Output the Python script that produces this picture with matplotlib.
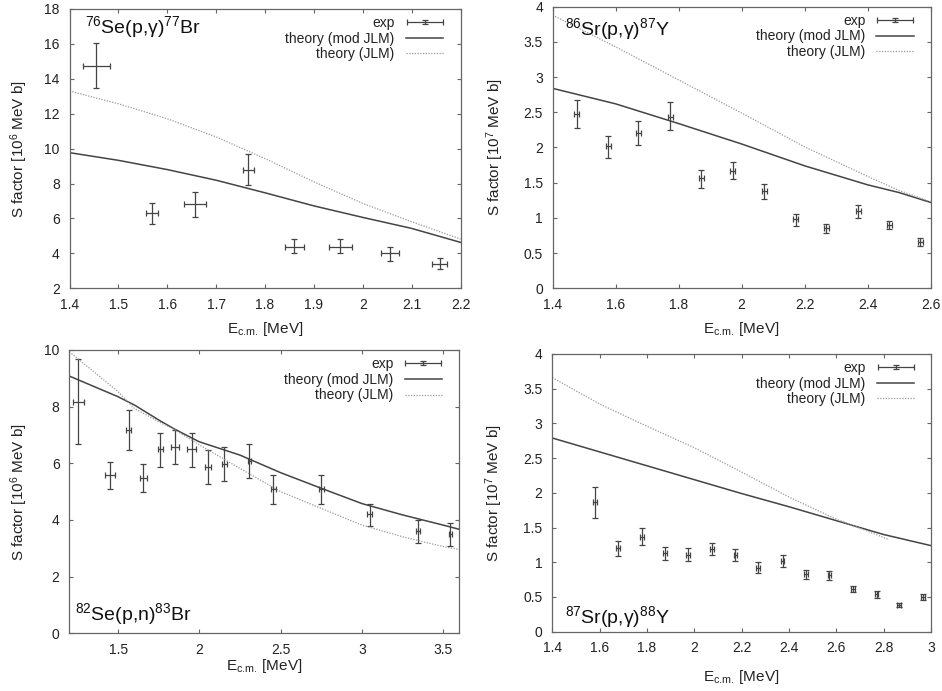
import numpy as np
import matplotlib
matplotlib.use('Agg')
import matplotlib.pyplot as plt
from matplotlib.ticker import FormatStrFormatter, MultipleLocator
from matplotlib.container import ErrorbarContainer
from matplotlib.legend_handler import HandlerErrorbar

plt.rcParams['font.family'] = ['Liberation Sans', 'DejaVu Sans']
plt.rcParams['mathtext.fontset'] = 'custom'
plt.rcParams['mathtext.rm'] = 'Liberation Sans'
plt.rcParams['mathtext.it'] = 'Liberation Sans:italic'
plt.rcParams['mathtext.bf'] = 'Liberation Sans:bold'

# --- 76Se(p,g)77Br ---
se76_e = [1.455, 1.569, 1.657, 1.766, 1.860, 1.954, 2.056, 2.157]
se76_s = [14.76, 6.29, 6.80, 8.80, 4.38, 4.38, 4.00, 3.39]
se76_lo = [13.49, 5.68, 6.10, 7.90, 4.00, 4.00, 3.58, 3.09]
se76_hi = [16.04, 6.91, 7.49, 9.68, 4.80, 4.80, 4.38, 3.71]
se76_de = [0.027, 0.012, 0.023, 0.012, 0.019, 0.024, 0.018, 0.015]
se76_th_e = [1.4, 1.5, 1.6, 1.7, 1.8, 1.9, 2.0, 2.1, 2.2]
se76_mod = [9.77, 9.33, 8.80, 8.19, 7.47, 6.72, 6.06, 5.43, 4.63]
se76_jlm = [13.30, 12.57, 11.71, 10.67, 9.43, 8.10, 6.86, 5.81, 4.82]

# --- 86Sr(p,g)87Y ---
sr86_e = [1.477, 1.577, 1.672, 1.773, 1.872, 1.972, 2.072, 2.172, 2.269, 2.370, 2.469, 2.568]
sr86_s = [2.47, 2.02, 2.21, 2.44, 1.56, 1.67, 1.38, 0.98, 0.86, 1.10, 0.90, 0.66]
sr86_lo = [2.27, 1.85, 2.03, 2.25, 1.43, 1.55, 1.27, 0.89, 0.79, 1.00, 0.84, 0.60]
sr86_hi = [2.67, 2.17, 2.37, 2.64, 1.68, 1.80, 1.48, 1.05, 0.91, 1.19, 0.96, 0.71]
sr86_th_e = [1.4, 1.6, 1.8, 2.0, 2.2, 2.4, 2.5, 2.6]
sr86_mod = [2.84, 2.62, 2.34, 2.05, 1.74, 1.47, 1.36, 1.22]
sr86_jlm = [3.88, 3.43, 2.96, 2.49, 2.01, 1.59, 1.39, 1.23]

# --- 82Se(p,n)83Br ---
se82_e = [1.255, 1.449, 1.565, 1.655, 1.759, 1.852, 1.952, 2.053, 2.153, 2.307,
          2.455, 2.750, 3.048, 3.345, 3.544]
se82_s = [8.15, 5.59, 7.18, 5.49, 6.49, 6.59, 6.49, 5.88, 5.99, 6.07,
          5.08, 5.08, 4.21, 3.61, 3.49]
se82_lo = [6.67, 5.08, 6.47, 4.98, 5.87, 5.98, 5.87, 5.27, 5.39, 5.47,
           4.56, 4.56, 3.78, 3.20, 3.08]
se82_hi = [9.67, 6.06, 7.88, 5.99, 7.07, 7.18, 7.07, 6.47, 6.59, 6.67,
           5.59, 5.58, 4.58, 4.00, 3.89]
se82_de = [0.033, 0.030, 0.015, 0.020, 0.015, 0.024, 0.026, 0.017, 0.015, 0.010,
           0.015, 0.015, 0.015, 0.010, 0.010]
se82_th_e = [1.2, 1.5, 1.6, 1.75, 1.85, 2.0, 2.25, 2.5, 2.75, 3.0, 3.25, 3.5, 3.6]
se82_mod = [9.08, 8.35, 8.06, 7.53, 7.20, 6.76, 6.29, 5.67, 5.12, 4.58, 4.18, 3.82, 3.67]
se82_jlm = [9.94, 8.53, 7.94, 7.47, 7.18, 6.65, 5.82, 5.00, 4.41, 3.82, 3.41, 3.06, 2.96]

# --- 87Sr(p,g)88Y ---
sr87_e = [1.579, 1.678, 1.778, 1.875, 1.975, 2.074, 2.174, 2.270, 2.373, 2.471,
          2.571, 2.669, 2.770, 2.866, 2.965]
sr87_s = [1.87, 1.20, 1.37, 1.13, 1.11, 1.19, 1.10, 0.92, 1.02, 0.83,
          0.81, 0.61, 0.54, 0.38, 0.50]
sr87_lo = [1.64, 1.09, 1.25, 1.04, 1.02, 1.10, 1.02, 0.85, 0.93, 0.76,
           0.74, 0.57, 0.49, 0.35, 0.46]
sr87_hi = [2.08, 1.31, 1.49, 1.22, 1.21, 1.28, 1.19, 1.01, 1.10, 0.89,
           0.88, 0.66, 0.58, 0.41, 0.54]
sr87_th_e = [1.4, 1.6, 1.8, 2.0, 2.2, 2.4, 2.6, 2.8, 3.0]
sr87_mod = [2.79, 2.59, 2.39, 2.19, 1.99, 1.80, 1.60, 1.40, 1.24]
sr87_jlm_e = [1.4, 1.6, 1.8, 2.0, 2.2, 2.4, 2.6, 2.7, 2.82]
sr87_jlm = [3.66, 3.28, 2.96, 2.65, 2.30, 1.94, 1.62, 1.49, 1.33]

ERR_C = '#444444'
MOD_C = '#444444'
JLM_C = '#999999'
FRAME_C = '#666666'
TEXT_C = '#222222'

fig = plt.figure(figsize=(9.42, 6.91), dpi=100)


def panel(rect, e, s, lo, hi, de, th_e, mod, jlm_e, jlm, xlim, ylim, xstep, ystep,
          exp10, label, label_pos, ylab_x, xlab_y):
    ax = fig.add_axes(rect)
    s = np.array(s)
    yerr = [s - np.array(lo), np.array(hi) - s]
    eb = ax.errorbar(e, s, yerr=yerr, xerr=de, fmt='none', ecolor=ERR_C,
                     elinewidth=0.9, capsize=2.5, capthick=0.9, label='exp')
    l_mod, = ax.plot(th_e, mod, color=MOD_C, lw=1.1, label='theory (mod JLM)')
    l_jlm, = ax.plot(jlm_e, jlm, color=JLM_C, lw=0.9, ls=(0, (1, 1.2)),
                     label='theory (JLM)')
    ax.set_xlim(*xlim)
    ax.set_ylim(*ylim)
    ax.xaxis.set_major_locator(MultipleLocator(xstep))
    ax.yaxis.set_major_locator(MultipleLocator(ystep))
    ax.xaxis.set_major_formatter(FormatStrFormatter('%g'))
    ax.yaxis.set_major_formatter(FormatStrFormatter('%g'))
    ax.tick_params(direction='in', length=3, width=0.8, color=FRAME_C, top=True,
                   right=True, labelsize=10, labelcolor=TEXT_C, pad=7)
    for sp in ax.spines.values():
        sp.set_color(FRAME_C)
        sp.set_linewidth(0.9)
    ax.set_xlabel(r'E$_{\mathrm{c.\!m.\!}}$ [MeV]', fontsize=11, color=TEXT_C)
    ax.set_ylabel('S factor [10$^{%d}$ MeV b]' % exp10, fontsize=11, color=TEXT_C)
    ax.xaxis.set_label_coords(0.5, xlab_y)
    ax.yaxis.set_label_coords(ylab_x, 0.5)
    ax.text(label_pos[0], label_pos[1], label, transform=ax.transAxes, fontsize=14,
            ha='left', va='baseline', color='#111111')
    leg = ax.legend([eb, l_mod, l_jlm], ['exp', 'theory (mod JLM)', 'theory (JLM)'],
                    loc='upper right', bbox_to_anchor=(0.956, 0.975), frameon=False,
                    markerfirst=False, fontsize=10, handlelength=2.7,
                    handletextpad=0.8, labelspacing=0.12, borderpad=0,
                    borderaxespad=0,
                    handler_map={ErrorbarContainer: HandlerErrorbar(xerr_size=1.3,
                                                                    yerr_size=0.15)})
    for t in leg.get_texts():
        t.set_color(TEXT_C)
    return ax


panel([0.0738, 0.5828, 0.4151, 0.4042], se76_e, se76_s, se76_lo, se76_hi, se76_de,
      se76_th_e, se76_mod, se76_th_e, se76_jlm, (1.4, 2.2), (2, 18), 0.1, 2, 6,
      r'$^{76}$Se(p,γ)$^{77}$Br', (0.04, 0.914), -0.10, -0.113)

panel([0.5867, 0.5828, 0.4011, 0.4075], sr86_e, sr86_s, sr86_lo, sr86_hi,
      [0.008] * len(sr86_e), sr86_th_e, sr86_mod, sr86_th_e, sr86_jlm,
      (1.4, 2.6), (0, 4), 0.2, 0.5, 7,
      r'$^{86}$Sr(p,γ)$^{87}$Y', (0.033, 0.9), -0.124, -0.113)

panel([0.0736, 0.0835, 0.4140, 0.4100], se82_e, se82_s, se82_lo, se82_hi, se82_de,
      se82_th_e, se82_mod, se82_th_e, se82_jlm, (1.2, 3.6), (0, 10), 0.5, 2, 6,
      r'$^{82}$Se(p,n)$^{83}$Br', (0.015, 0.047), -0.10, -0.084)

panel([0.5863, 0.0858, 0.4020, 0.4019], sr87_e, sr87_s, sr87_lo, sr87_hi,
      [0.008] * len(sr87_e), sr87_th_e, sr87_mod, sr87_jlm_e, sr87_jlm,
      (1.4, 3.0), (0, 4), 0.2, 0.5, 7,
      r'$^{87}$Sr(p,γ)$^{88}$Y', (0.033, 0.03), -0.124, -0.131)

fig.savefig('out.png', dpi=100)
